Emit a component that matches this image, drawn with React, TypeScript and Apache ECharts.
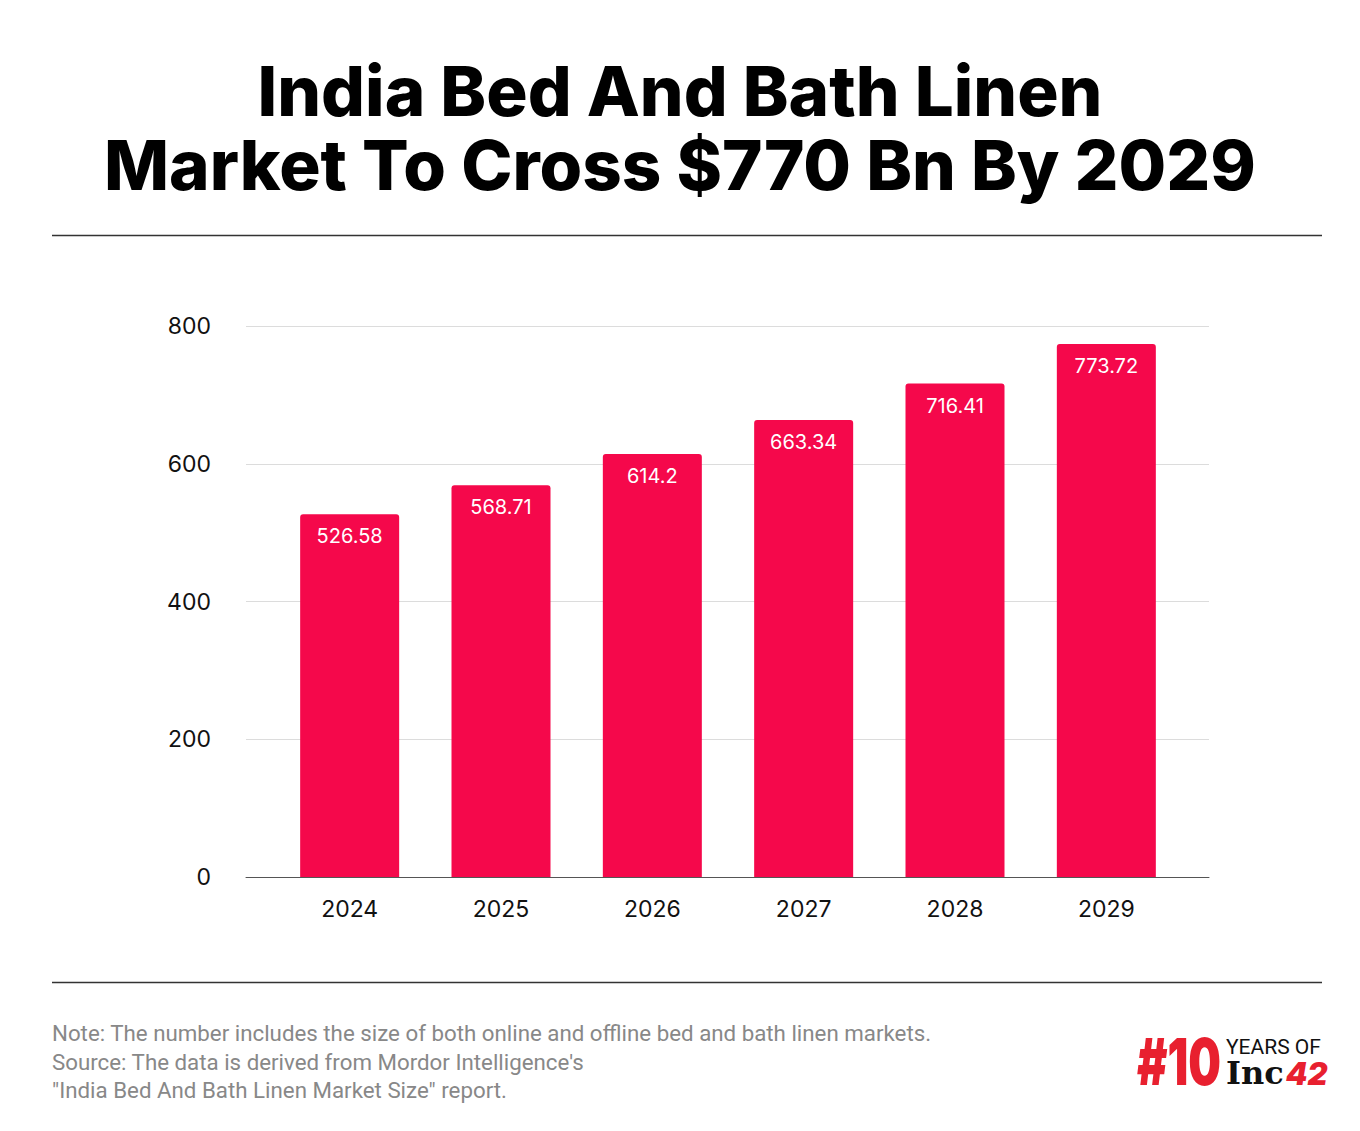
import React, { useEffect, useRef } from "react";
import * as echarts from "echarts";

const years = ["2024", "2025", "2026", "2027", "2028", "2029"];
const marketValues = [526.58, 568.71, 614.2, 663.34, 716.41, 773.72];
const titleLines = ["India Bed And Bath Linen", "Market To Cross $770 Bn By 2029"];
const footerLines = [
  "Note: The number includes the size of both online and offline bed and bath linen markets.",
  "Source: The data is derived from Mordor Intelligence's",
  "\"India Bed And Bath Linen Market Size\" report.",
];

const BAR = "#F5084B";
const LOGO_RED = "#E8202F";

export default function App() {
  const ref = useRef<HTMLDivElement>(null);
  useEffect(() => {
    if (!ref.current) return;
    const chart = echarts.init(ref.current, undefined, { renderer: "svg" });
    chart.setOption({
      animation: false,
      backgroundColor: "#ffffff",
      grid: [
        { left: 246, right: 151, top: 326, bottom: 254 },
        { left: 274, right: 178, top: 326, bottom: 254 },
      ],
      xAxis: [
        {
          gridIndex: 0,
          type: "value",
          min: 0,
          max: 1,
          axisLabel: { show: false },
          axisTick: { show: false },
          splitLine: { show: false },
          axisLine: { show: true, lineStyle: { color: "#555", width: 1 } },
        },
        {
          gridIndex: 1,
          type: "category",
          data: years,
          axisLine: { show: false },
          axisTick: { show: false },
          axisLabel: { fontSize: 23, color: "#111", fontFamily: "Inter", margin: 20 },
        },
      ],
      yAxis: [
        {
          gridIndex: 0,
          type: "value",
          min: 0,
          max: 800,
          interval: 200,
          axisLine: { show: false },
          axisTick: { show: false },
          axisLabel: { fontSize: 23, color: "#111", fontFamily: "Inter", margin: 35 },
          splitLine: { lineStyle: { color: "#dcdcdc", width: 1 } },
        },
        {
          gridIndex: 1,
          type: "value",
          min: 0,
          max: 800,
          show: false,
          splitLine: { show: false },
        },
      ],
      series: [
        {
          type: "bar",
          xAxisIndex: 1,
          yAxisIndex: 1,
          data: marketValues,
          barWidth: 99,
          itemStyle: { color: BAR, borderRadius: [3, 3, 0, 0] },
          label: {
            show: true,
            position: "insideTop",
            distance: 12,
            color: "#ffffff",
            fontSize: 20,
            fontFamily: "Inter",
          },
        },
      ],
      graphic: [
        {
          type: "text",
          x: 680,
          y: 128,
          style: {
            text: titleLines.join("\n"),
            fontSize: 69,
            lineHeight: 74,
            fontWeight: 800,
            fontFamily: "Inter",
            fill: "#000",
            align: "center",
            verticalAlign: "middle",
          },
        },
        { type: "line", shape: { x1: 52, y1: 235.5, x2: 1322, y2: 235.5 }, style: { stroke: "#333", lineWidth: 1.5 } },
        { type: "line", shape: { x1: 52, y1: 982.5, x2: 1322, y2: 982.5 }, style: { stroke: "#333", lineWidth: 1.5 } },
        ...footerLines.map((t, i) => ({
          type: "text",
          x: 52,
          y: 1033 + i * 28.5,
          style: {
            text: t,
            fontSize: 22.3,
            fontFamily: "Roboto",
            fill: "#888888",
            verticalAlign: "middle",
          },
        })),
        {
          type: "text",
          x: 1137,
          y: 1061,
          scaleX: 0.72,
          style: {
            text: "#10",
            fontSize: 64,
            fontWeight: 900,
            fontFamily: "Inter",
            fill: LOGO_RED,
            verticalAlign: "middle",
          },
        },
        {
          type: "text",
          x: 1226,
          y: 1061,
          style: {
            text: "{a|YEARS OF}\n{b|Inc}{c|42}",
            verticalAlign: "middle",
            rich: {
              a: { fontSize: 21, lineHeight: 24, fontFamily: "Roboto", fill: "#111", color: "#111" },
              b: { fontSize: 32, lineHeight: 28, fontWeight: "bold", fontFamily: "DejaVu Serif", fill: "#111", color: "#111" },
              c: { fontSize: 31, lineHeight: 28, fontWeight: 900, fontStyle: "italic", fontFamily: "Inter", fill: LOGO_RED, color: LOGO_RED, padding: [0, 0, 0, 2] },
            },
          },
        },
      ],
    });
    return () => chart.dispose();
  }, []);
  return (
    <div
      ref={ref}
      style={{ position: "fixed", left: 0, top: 0, width: 1360, height: 1131, background: "#fff" }}
    />
  );
}
